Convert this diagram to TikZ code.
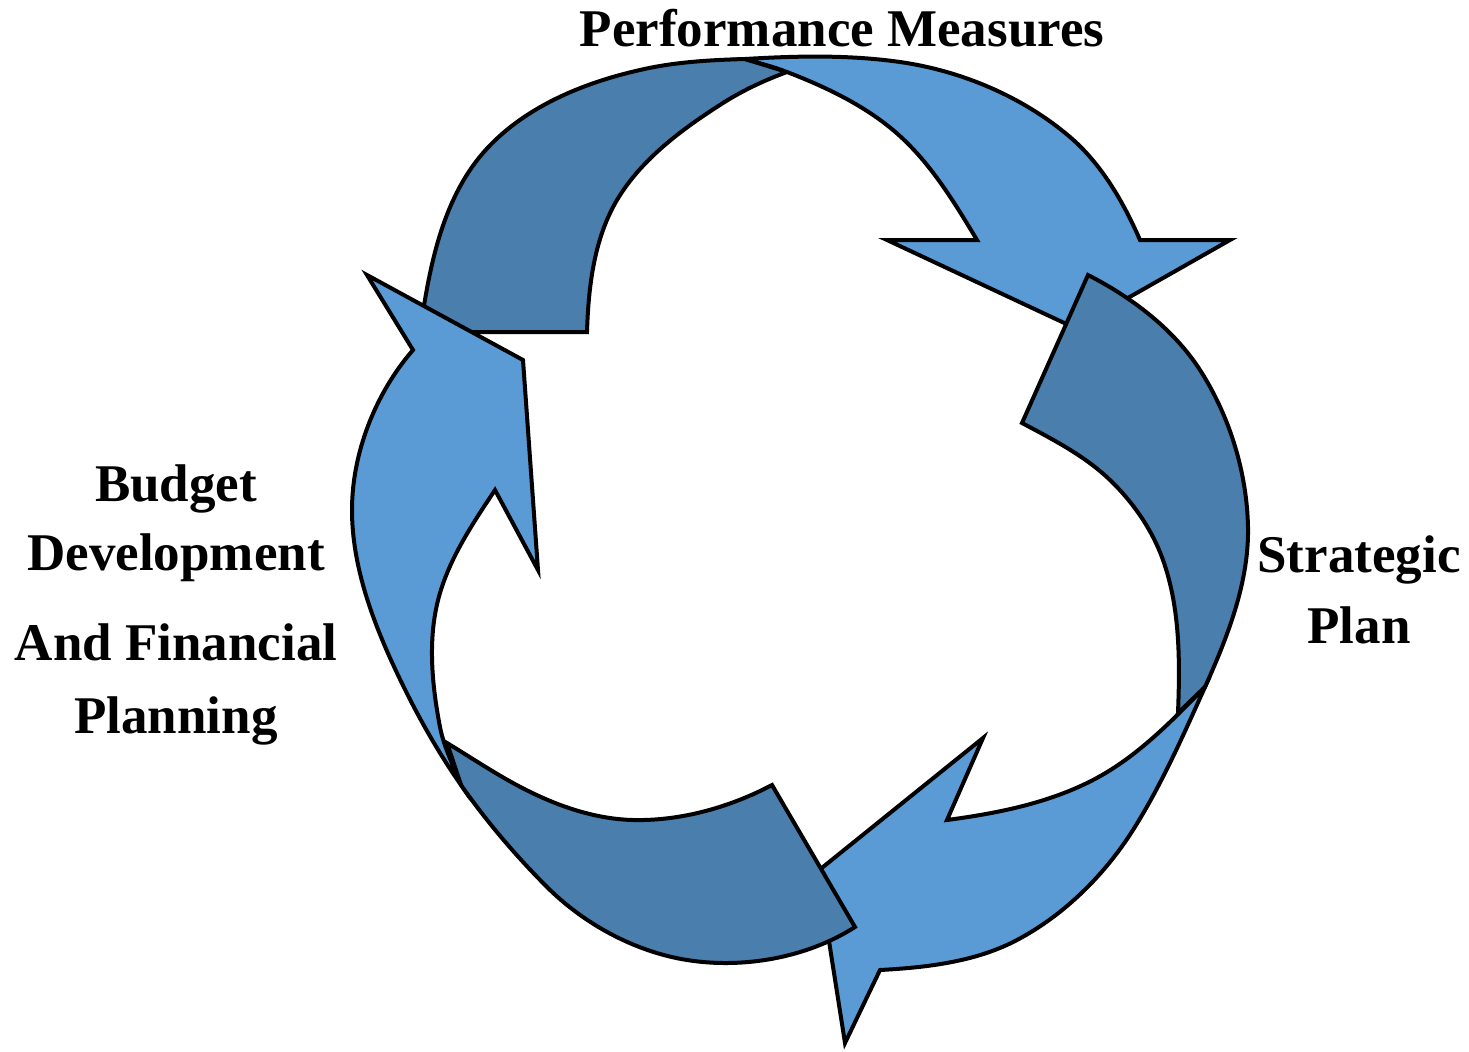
\documentclass[tikz,border=0pt]{standalone}
\usepackage{fontspec}
\setmainfont{Liberation Serif}
\definecolor{ringdark}{HTML}{4A7EAD}
\definecolor{ringlight}{HTML}{5B9BD5}
\begin{document}
\begin{tikzpicture}[x=0.5pt,y=-0.5pt,
  band/.style={draw=black, line width=2pt, line join=miter},
  backband/.style={band, fill=ringdark},
  frontband/.style={band, fill=ringlight},
  lbl/.style={font=\bfseries\fontsize{26.5pt}{30pt}\selectfont, anchor=base, inner sep=0pt}]
\useasboundingbox (0,0) rectangle (1469,1051);

% top arrow: back side (tail)
\path[backband] (587,332) -- (420,332)
  .. controls (429,269) and (441.5,201) .. (483,153)
  .. controls (522,108) and (582,83) .. (640,70)
  .. controls (674,62) and (710,60) .. (745,59)
  -- (787,72)
  .. controls (764.7,80.2) and (743,90.3) .. (723,103)
  .. controls (682.6,128.7) and (641.5,158.9) .. (617,200)
  .. controls (594,238.8) and (588.4,286.9) .. (587,332)
  -- cycle;
% top arrow: front side with head
\path[frontband] (745,59)
  .. controls (796.6,55.9) and (848.8,54.7) .. (900,62)
  .. controls (961.3,70.7) and (1023,96.8) .. (1070,137)
  .. controls (1101.5,164) and (1123.4,202) .. (1140,240)
  -- (1230,240) -- (1075,328) -- (887,240) -- (977,240)
  .. controls (953.3,200.5) and (928.4,159.5) .. (893,130)
  .. controls (862.1,104.2) and (824.6,86.5) .. (787,72)
  .. controls (773.3,66.7) and (759,63) .. (745,59)
  -- cycle;

% right arrow: back side (tail)
\path[backband] (1022,423) -- (1088,275)
  .. controls (1131.6,297.3) and (1173.4,328.8) .. (1200,370)
  .. controls (1229.6,416) and (1246.9,472.3) .. (1248,527)
  .. controls (1249.1,582.2) and (1227.6,636.8) .. (1205,687)
  -- (1178,713)
  .. controls (1180,661.8) and (1180.2,608.2) .. (1163,560)
  .. controls (1152.3,529.9) and (1133.1,502.2) .. (1110,480)
  .. controls (1084.8,455.8) and (1052.8,439.4) .. (1022,423)
  -- cycle;
% right arrow: front side with head
\path[frontband] (1205,687)
  .. controls (1183.1,735.6) and (1161.5,784.9) .. (1133,830)
  .. controls (1104.5,875) and (1064.1,915.1) .. (1017,940)
  .. controls (975.7,961.9) and (926.6,967.5) .. (880,970)
  -- (845,1043) -- (818,871) -- (983,738) -- (947,820)
  .. controls (997,813.4) and (1048.2,803.2) .. (1093,780)
  .. controls (1136.1,757.7) and (1171,721.9) .. (1205,687)
  -- cycle;

% bottom arrow: back side (tail)
\path[backband] (855,927) -- (772,785)
  .. controls (729.7,807.3) and (680.8,821.1) .. (633,820)
  .. controls (591.1,819) and (549.7,803.2) .. (513,783)
  .. controls (490.5,770.6) and (469,756.3) .. (447,743)
  -- (461,785)
  .. controls (486.5,821.4) and (515.5,855.5) .. (547,887)
  .. controls (584.2,924.2) and (635.1,951.7) .. (687,960)
  .. controls (743.4,969) and (806.9,957.8) .. (855,927)
  -- cycle;
% bottom arrow: front side with head
\path[frontband] (461,785)
  .. controls (436.4,749.8) and (415.4,711.9) .. (397,673)
  .. controls (372.9,622) and (352,566.4) .. (352,510)
  .. controls (352,452.9) and (375.5,393.1) .. (413,350)
  -- (367,275) -- (523,360) -- (538,570) -- (495,490)
  .. controls (473.4,522.4) and (451.1,555.7) .. (440,593)
  .. controls (427.2,635.8) and (431.6,683.1) .. (440,727)
  .. controls (443.9,747.2) and (453.4,765.8) .. (461,785)
  -- cycle;

% labels
\node[lbl] (perf) at (842,46) {Performance Measures};
\node[lbl] (strat1) at (1359,572) {Strategic};
\node[lbl] (strat2) at (1359,643) {Plan};
\node[lbl] (budget1) at (176,501) {Budget};
\node[lbl] (budget2) at (176,570) {Development};
\node[lbl] (budget3) at (176,660) {And Financial};
\node[lbl] (budget4) at (176,733) {Planning};
\end{tikzpicture}
\end{document}
